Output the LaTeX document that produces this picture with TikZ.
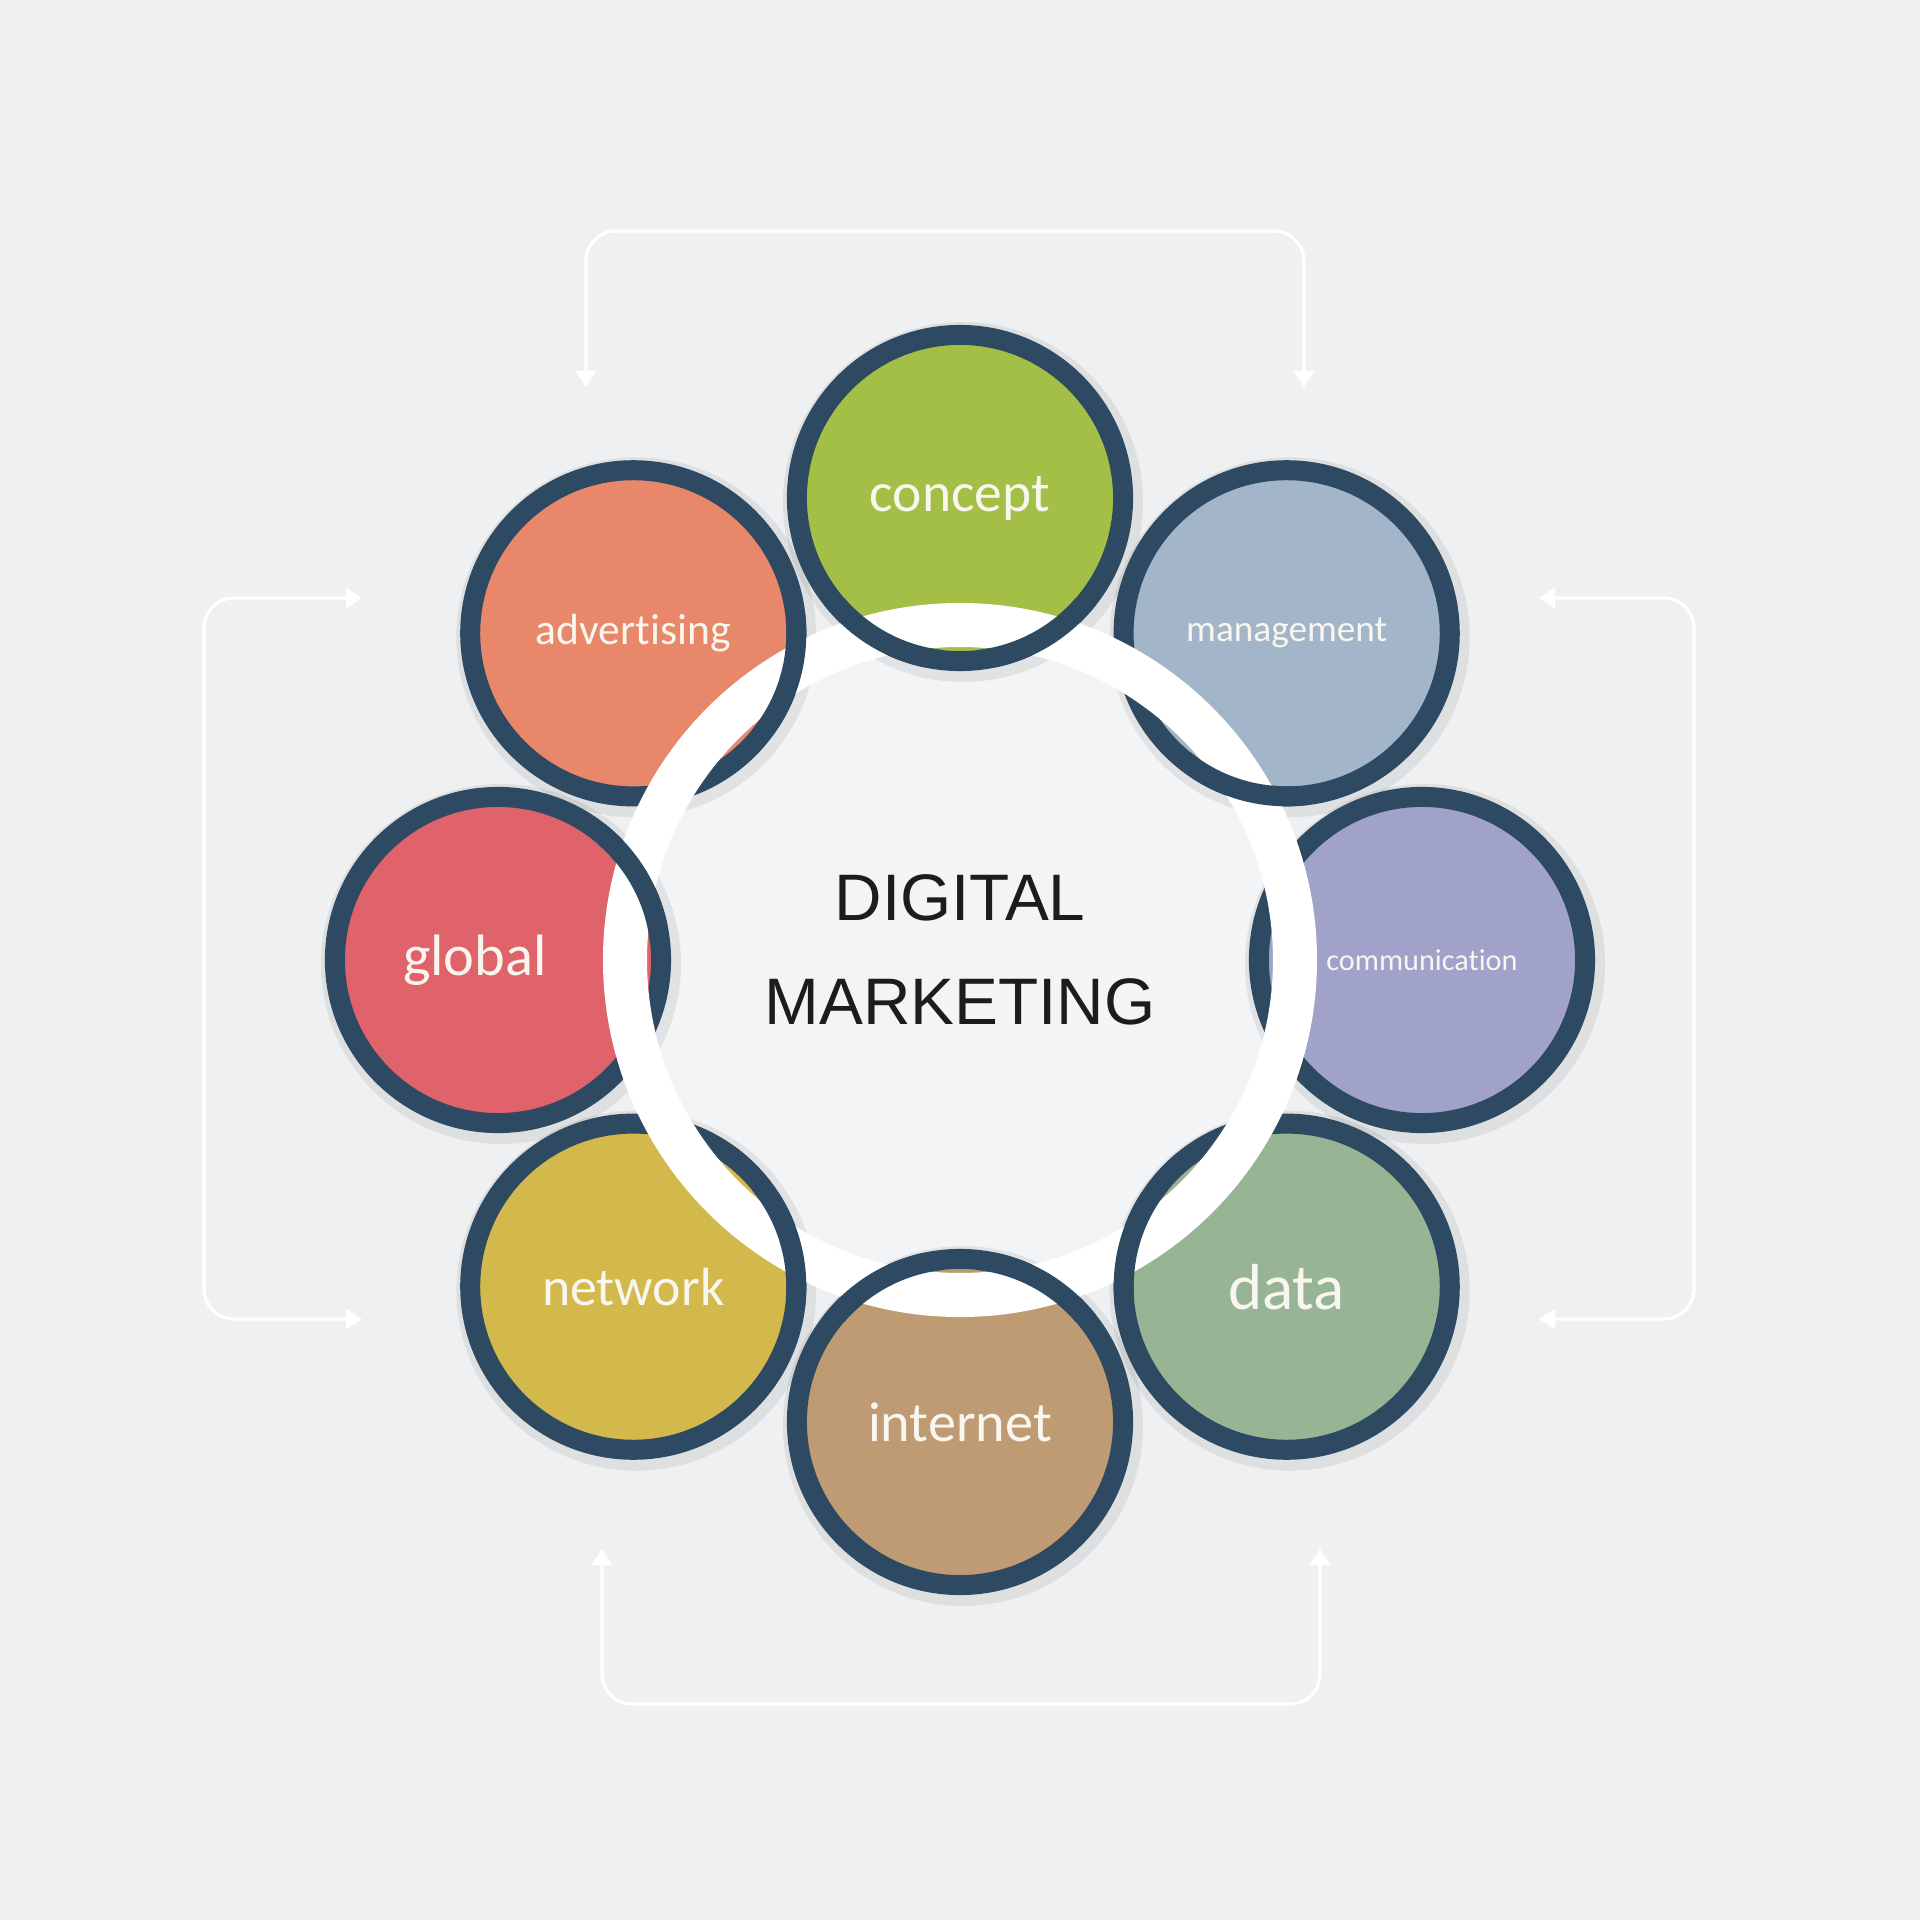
\documentclass[tikz,border=0pt]{standalone}
\usepackage{fontspec}
\setmainfont{Carlito}[RawFeature={-liga}]
\newfontfamily\headfont{Liberation Sans}
\usetikzlibrary{arrows.meta}
\definecolor{bgcol}{HTML}{EFF0F2}
\definecolor{hubcol}{HTML}{F3F4F6}
\definecolor{rimcol}{HTML}{2E4A62}
\definecolor{txtcol}{HTML}{F8F6EE}
\definecolor{headcol}{HTML}{1C1C1E}
\definecolor{cconcept}{HTML}{A4BF45}
\definecolor{cmanage}{HTML}{A3B6C9}
\definecolor{ccomm}{HTML}{A0A2CA}
\definecolor{cdata}{HTML}{97B594}
\definecolor{cinternet}{HTML}{BE9B72}
\definecolor{cnetwork}{HTML}{D3B84B}
\definecolor{cglobal}{HTML}{E0636C}
\definecolor{cadvert}{HTML}{E9876A}
\begin{document}
\begin{tikzpicture}[x=0.01cm,y=0.01cm,line join=round,
  sat/.style={circle,draw=rimcol,line width=2mm,minimum size=3.26cm,inner sep=0pt,text=txtcol},
  rim/.style={draw=rimcol,line width=2mm},
  bracket/.style={draw=white,line width=0.9pt,rounded corners=0.3cm,
    {Triangle[width=2mm,length=1.6mm]}-{Triangle[width=2mm,length=1.6mm]}}]
  \fill[bgcol] (-960,-960) rectangle (960,960);
  \useasboundingbox (-960,-960) rectangle (960,960);
  \coordinate (hub) at (0,0);
  \fill[hubcol] (hub) circle (320);
  % brackets
  \coordinate (t1) at (-374,573); \coordinate (t2) at (344,573);
  \coordinate (l1) at (-598,362); \coordinate (l2) at (-598,-359);
  \coordinate (r1) at (579,362);  \coordinate (r2) at (579,-359);
  \coordinate (b1) at (-358,-589); \coordinate (b2) at (360,-589);
  \draw[bracket] (t1) -- ++(0,156) -| (t2);
  \draw[bracket] (l1) -- ++(-158,0) |- (l2);
  \draw[bracket] (r1) -- ++(155,0) |- (r2);
  \draw[bracket] (b1) -- ++(0,-155) -| (b2);
  % satellites
  \foreach \ang in {90,45,...,-225}
    \fill[black,opacity=0.07] (\ang:462) ++(3,-4) circle (180);
  \foreach \ang/\nm/\col/\fs/\txt in {90/concept/cconcept/15.8/concept,45/management/cmanage/10.6/management,
      0/communication/ccomm/8.6/communication,-45/data/cdata/18.5/data,-90/internet/cinternet/16/internet,
      -135/network/cnetwork/15.3/network,180/global/cglobal/16.6/global\kern0.46cm,
      135/advertising/cadvert/12.4/advertising}
    \node[sat,fill=\col,font=\fontsize{\fs}{\fs}\selectfont] (\nm) at (\ang:462) {\txt};
  \draw[white,line width=4.4mm] (hub) circle (335);
  % borders that pass over the ring
  \foreach \s/\a in {concept/75,concept/105,internet/255,internet/285,global/165,
      advertising/120,management/30,data/-60,network/240}{
    \begin{scope}
      \clip (\a-12:295) arc[start angle=\a-12,end angle=\a+12,radius=295]
        -- (\a+12:380) arc[start angle=\a+12,end angle=\a-12,radius=380] -- cycle;
      \draw[rim] (\s.center) circle (163);
    \end{scope}}
  \node[font=\headfont\fontsize{18.7}{18.7}\selectfont,text=headcol] (dig) at (0,62) {DIGITAL};
  \node[font=\headfont\fontsize{18.7}{18.7}\selectfont,text=headcol] (mkt) at (0,-42) {MARKETING};
\end{tikzpicture}
\end{document}
